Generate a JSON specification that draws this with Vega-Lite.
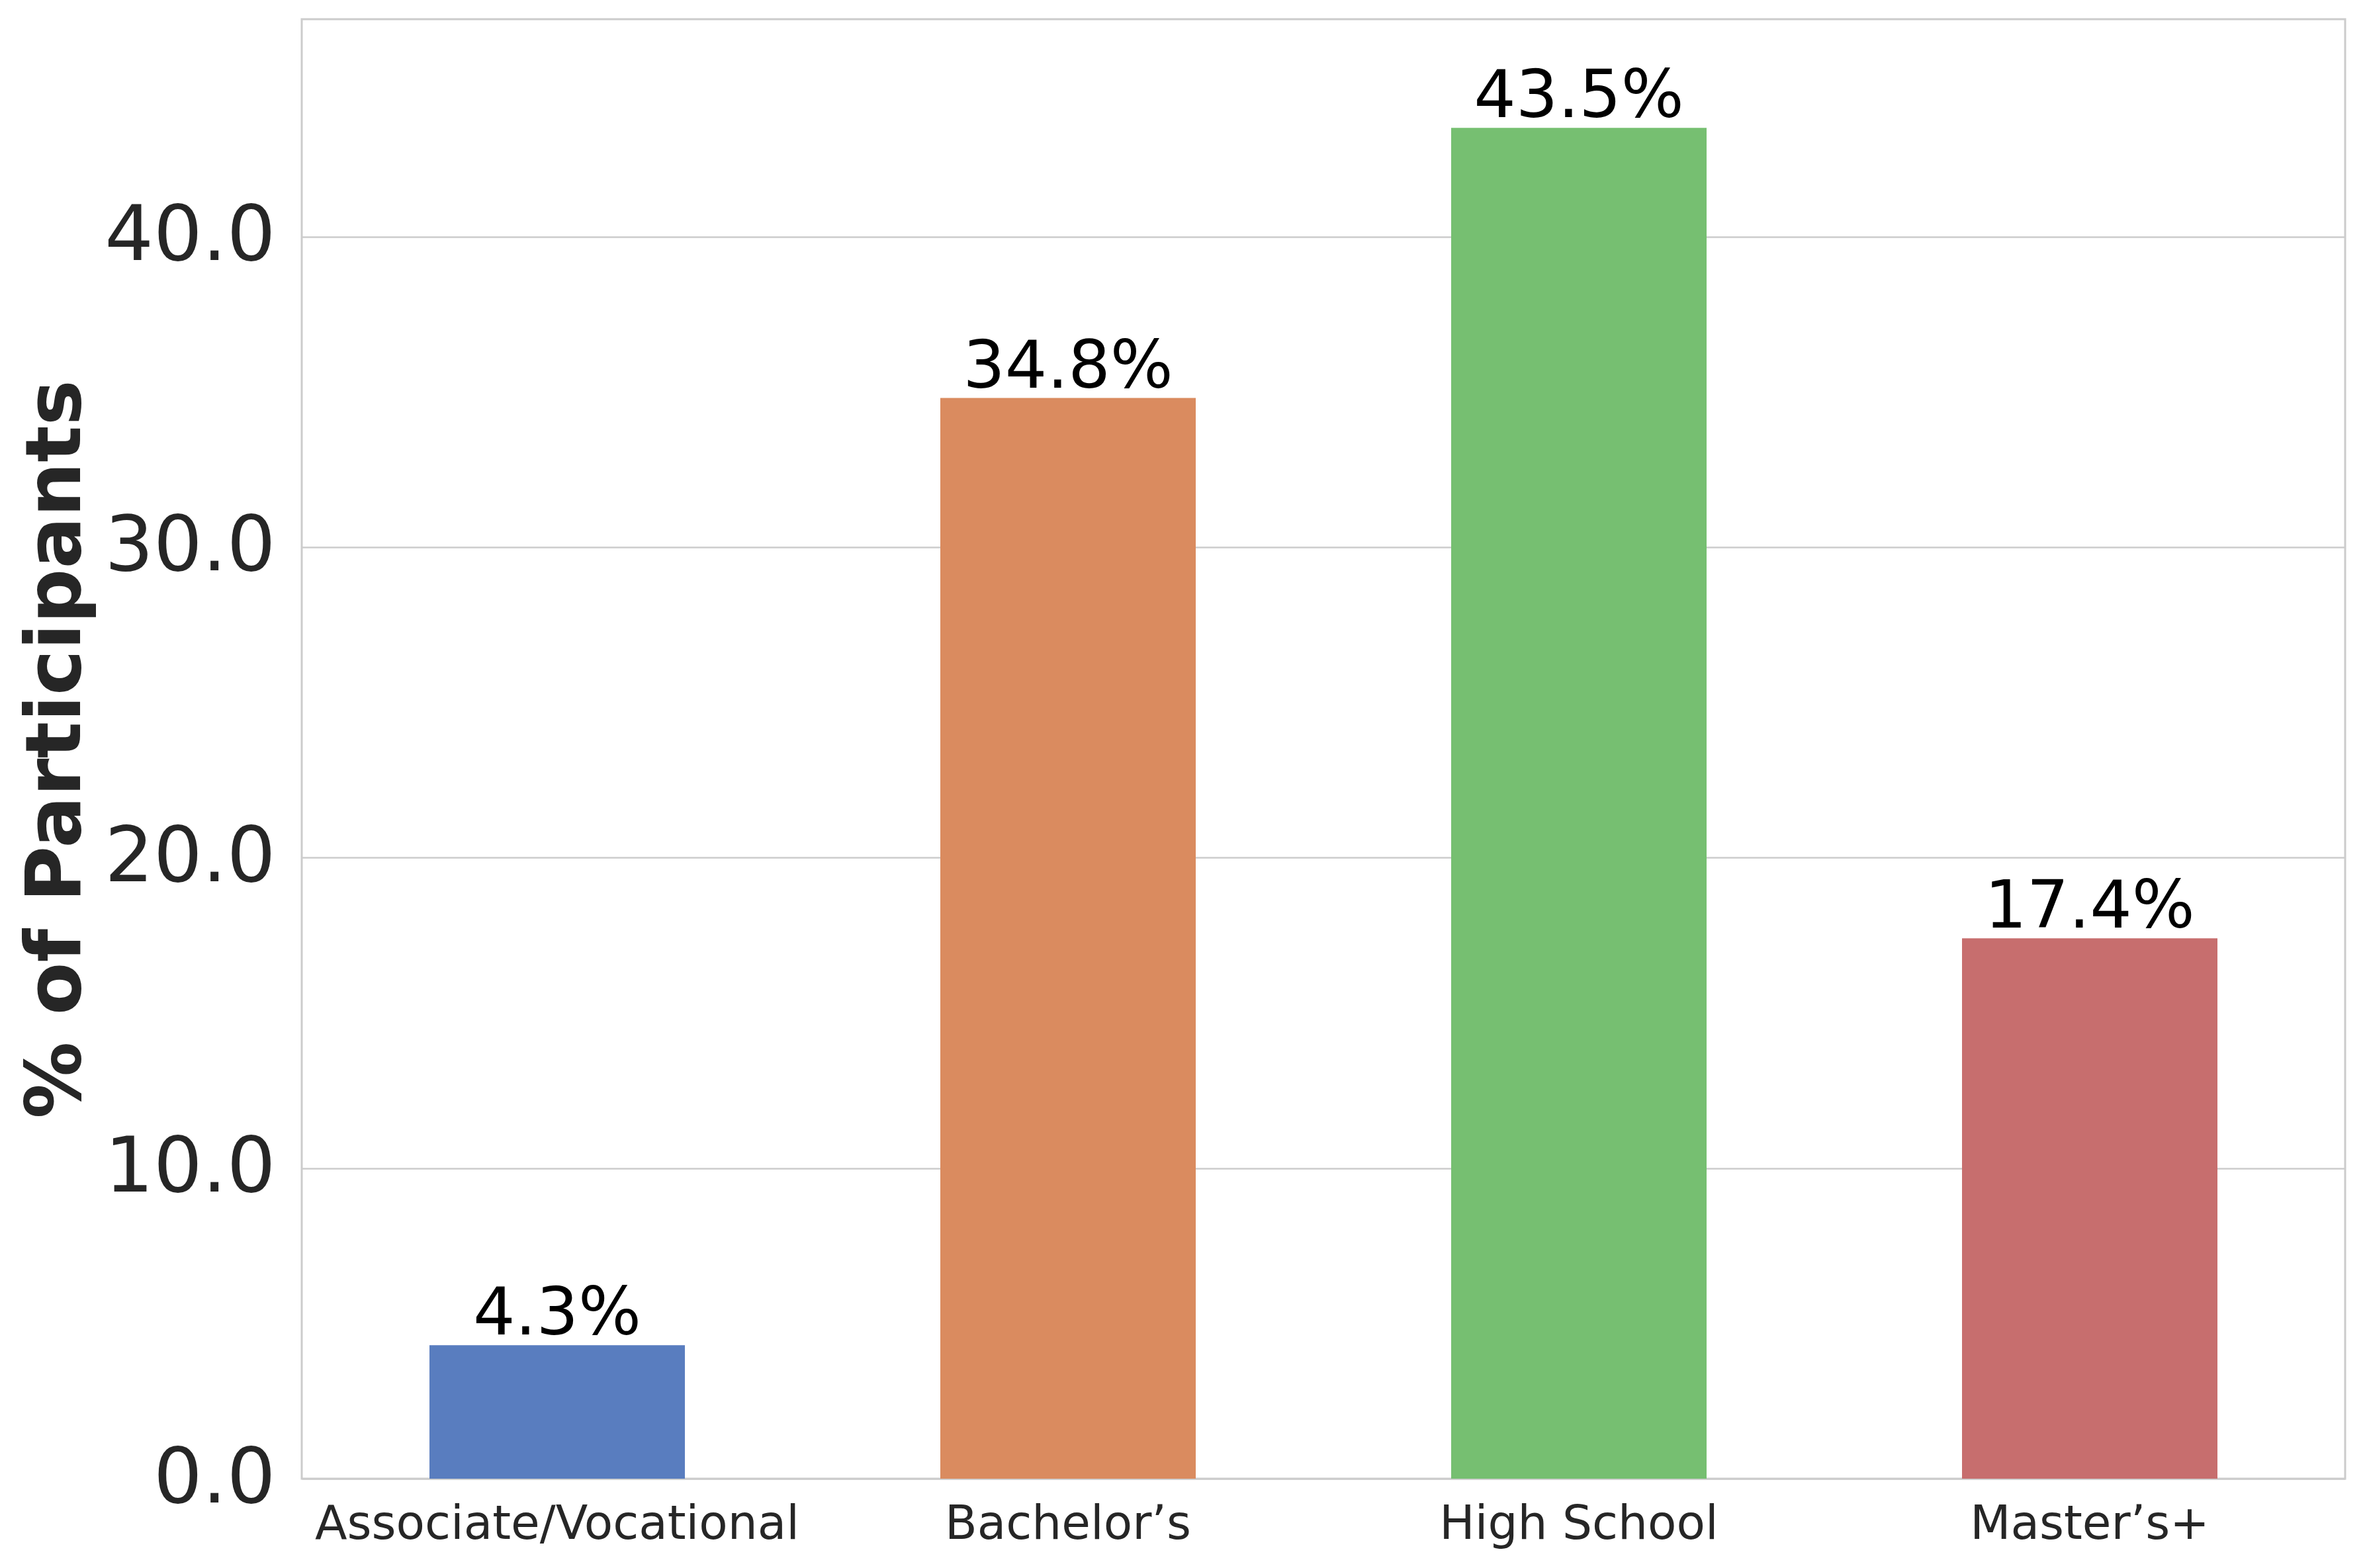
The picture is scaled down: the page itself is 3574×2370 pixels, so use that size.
{
  "$schema": "https://vega.github.io/schema/vega-lite/v6.json",
  "autosize": {"type": "none"},
  "width": 3088,
  "height": 2206,
  "padding": {"left": 456, "top": 29, "right": 30, "bottom": 135},
  "background": "white",
  "config": {
    "font": "DejaVu Sans",
    "view": {"stroke": "#cccccc", "strokeWidth": 3},
    "axis": {
      "labelFont": "DejaVu Sans",
      "titleFont": "DejaVu Sans",
      "labelColor": "#262626",
      "titleColor": "#262626",
      "labelLimit": 0,
      "domain": false,
      "ticks": false
    }
  },
  "data": {
    "values": [
      {"education": "Associate/Vocational", "pct": 4.3, "label": "4.3%"},
      {"education": "Bachelor’s", "pct": 34.8, "label": "34.8%"},
      {"education": "High School", "pct": 43.5, "label": "43.5%"},
      {"education": "Master’s+", "pct": 17.4, "label": "17.4%"}
    ]
  },
  "encoding": {
    "x": {
      "field": "education",
      "type": "nominal",
      "sort": null,
      "scale": {"paddingInner": 0.5, "paddingOuter": 0.25},
      "axis": {
        "title": null,
        "labelAngle": 0,
        "labelFontSize": 71,
        "labelPadding": 34,
        "grid": false
      }
    },
    "y": {
      "field": "pct",
      "type": "quantitative",
      "scale": {"domain": [0, 47.0], "nice": false, "zero": true},
      "axis": {
        "title": "% of Participants",
        "titleFontSize": 116,
        "titleFontWeight": "bold",
        "titleBaseline": "alphabetic",
        "titleAngle": -90,
        "titleAlign": "center",
        "titleX": -336,
        "titleY": 1103,
        "labelFontSize": 116,
        "labelPadding": 40,
        "values": [0, 10, 20, 30, 40],
        "format": ".1f",
        "grid": true,
        "gridColor": "#cccccc",
        "gridWidth": 2.7
      }
    }
  },
  "layer": [
    {
      "mark": {"type": "bar"},
      "encoding": {
        "color": {
          "field": "education",
          "type": "nominal",
          "sort": null,
          "scale": {
            "domain": ["Associate/Vocational", "Bachelor’s", "High School", "Master’s+"],
            "range": ["#597DBF", "#DA8B5F", "#76BF71", "#C76E6E"]
          },
          "legend": null
        }
      }
    },
    {
      "mark": {
        "type": "text",
        "fontSize": 100,
        "color": "#000000",
        "baseline": "alphabetic",
        "align": "center",
        "dy": -16
      },
      "encoding": {
        "text": {"field": "label", "type": "nominal"}
      }
    }
  ]
}
